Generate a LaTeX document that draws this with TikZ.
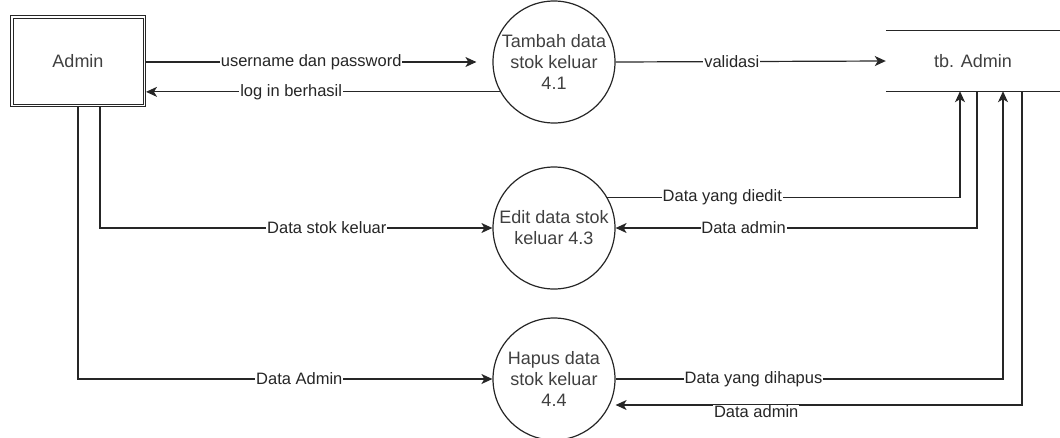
\documentclass[tikz,border=0pt]{standalone}
\usepackage{fontspec}
\setmainfont{Liberation Sans}
\usetikzlibrary{arrows.meta}
\definecolor{txt}{HTML}{404040}
\tikzset{
  flow/.style={line width=1.2pt, draw=black!85, -{Stealth[length=11pt,width=10pt,inset=3pt]}},
  lbl/.style={fill=white, inner sep=0.8pt, text=black!85, font=\fontsize{16.5}{19}\selectfont},
  proc/.style={circle, draw=black!85, line width=1.2pt, minimum size=122pt, inner sep=0pt,
    align=center, text=txt, font=\fontsize{18}{21}\selectfont},
  entity/.style={rectangle, draw=black!85, line width=1pt,
    minimum width=135pt, minimum height=91pt, text=txt, font=\fontsize{18}{21}\selectfont},
  store/.style={rectangle, minimum width=174pt, minimum height=60pt, text=txt,
    font=\fontsize{18}{21}\selectfont},
}
\begin{document}
\begin{tikzpicture}[x=1pt, y=-1pt]
\useasboundingbox (0,0) rectangle (1060,437);

% external entity (double frame), processes and data store
\node[entity] (admin) at (78,61) {Admin};
\draw[draw=black!85, line width=1pt]
  ([shift={(3pt,-3pt)}]admin.north west) rectangle ([shift={(-3pt,3pt)}]admin.south east);
\node[proc] (p1) at (554,62) {Tambah data\\stok keluar\\4.1};
\node[proc] (p3) at (554,228) {Edit data stok\\keluar 4.3};
\node[proc] (p4) at (554,379) {Hapus data\\stok keluar\\4.4};
\node[store] (tb) at (973,61) {tb. Admin};
\draw[line width=1.2pt, draw=black!85] (tb.north west) -- (tb.north east)
                                        (tb.south west) -- (tb.south east);

% login exchange
\draw[flow] (admin.east |- p1) -- ([xshift=-16pt]p1.west)
  node[lbl, pos=0.5] {username dan password};
\draw[flow] (p1.209.5) -- (admin.east |- p1.209.5)
  node[lbl, pos=0.59] {log in berhasil};
\draw[flow] (p1.east) -- (tb.west)
  node[lbl, pos=0.43] {validasi};

% inputs from Admin
\draw[flow] ([xshift=22pt]admin.south) |- (p3.west)
  node[lbl, pos=0.789] {Data stok keluar};
\draw[flow] (admin.south) |- (p4.west)
  node[lbl, pos=0.767] {Data Admin};

% edit process and the store
\draw[flow] (p3.30.5) -| ([xshift=-13pt]tb.south)
  node[lbl, pos=0.163] {Data yang diedit};
\draw[flow] ([xshift=4pt]tb.south) |- (p3.east)
  node[lbl, pos=0.823] {Data admin};

% delete process and the store
\draw[flow] (p4.east) -| ([xshift=30pt]tb.south)
  node[lbl, pos=0.178] {Data yang dihapus};
\draw[flow] ([xshift=49pt]tb.south) |- ([yshift=-26pt]p4.east)
  node[lbl, pos=0.827, yshift=-7pt] {Data admin};
\end{tikzpicture}
\end{document}
